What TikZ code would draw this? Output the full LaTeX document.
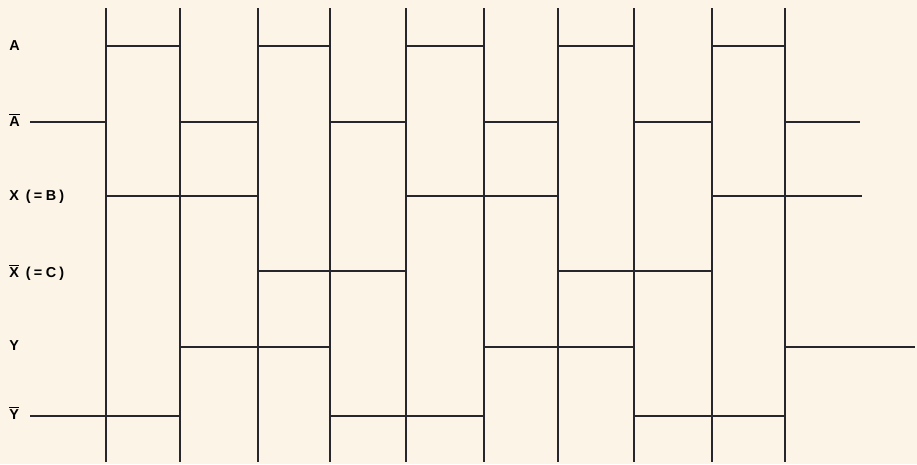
\documentclass[tikz,border=0pt]{standalone}
\usepackage{fontspec}
\setmainfont{Liberation Sans}
\definecolor{paper}{RGB}{252,245,231}
\definecolor{ink}{RGB}{38,38,44}
\tikzset{
  hisig/.style={ink, line width=1.35pt},
  losig/.style={ink, line width=0.65pt},
  tick/.style={ink, line width=0.85pt},
  lbl/.style={anchor=west, inner sep=0pt,
    font=\fontsize{8.2}{9}\selectfont\bfseries\addfontfeature{LetterSpace=22}}
}
\begin{document}
\begin{tikzpicture}[x=0.02cm, y=-0.02cm]
  % paper
  \fill[paper] (0,0) rectangle (917,464);
  \useasboundingbox (0,0) rectangle (917,464);

  % clock edges
  \foreach \t in {106,180,258,330,406,484,558,634,712,785} {
    \draw[tick] (\t,8) -- (\t,462);
  }

  % A
  \foreach \a/\b in {106/180, 258/330, 406/484, 558/634, 712/785} {
    \draw[hisig] (\a,46) -- (\b,46);
  }
  % A bar
  \foreach \a/\b in {30/106, 180/258, 330/406, 484/558, 634/712, 785/860} {
    \draw[losig] (\a,122) -- (\b,122);
  }
  % X (= B)
  \foreach \a/\b in {106/258, 406/558, 712/862} {
    \draw[hisig] (\a,196) -- (\b,196);
  }
  % X bar (= C)
  \foreach \a/\b in {258/406, 558/712} {
    \draw[hisig] (\a,271) -- (\b,271);
  }
  % Y
  \foreach \a/\b in {180/330, 484/634, 785/915} {
    \draw[losig] (\a,347) -- (\b,347);
  }
  % Y bar
  \foreach \a/\b in {30/180, 330/484, 634/785} {
    \draw[losig] (\a,416) -- (\b,416);
  }

  % row names
  \node[lbl] (nA)  at (9,46)  {A};
  \node[lbl] (nAb) at (9,120) {$\overline{\mbox{A}}$};
  \node[lbl] (nX)  at (9,197) {X\hspace{4pt}(=\hspace{2pt}B)};
  \node[lbl] (nXb) at (9,272) {$\overline{\mbox{X}}$\hspace{4pt}(=\hspace{2pt}C)};
  \node[lbl] (nY)  at (9,346) {Y};
  \node[lbl] (nYb) at (9,413) {$\overline{\mbox{Y}}$};
\end{tikzpicture}
\end{document}
